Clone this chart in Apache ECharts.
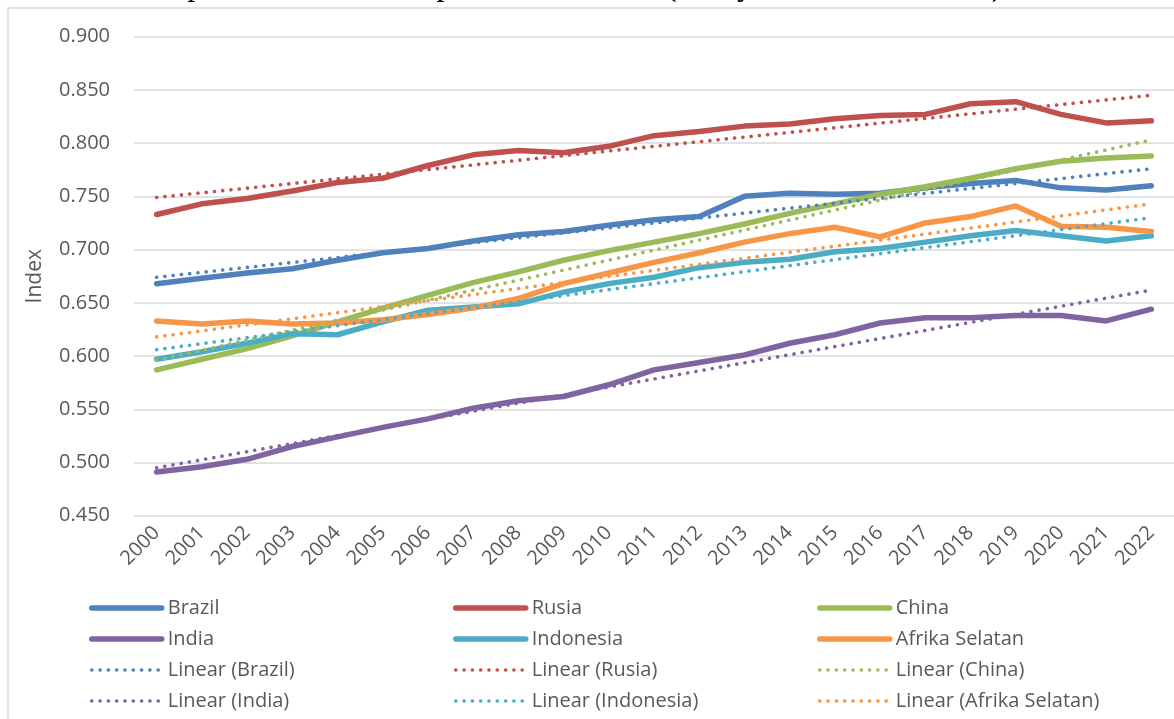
<!DOCTYPE html>
<html>
<head>
<meta charset="utf-8">
<script src="https://cdn.jsdelivr.net/npm/echarts@6/dist/echarts.min.js"></script>
<style>
    html, body { margin: 0; padding: 0; background: #fff; }
    #hdiChart { width: 1174px; height: 719px; }
</style>
</head>
<body>
<div id="hdiChart"></div>
<script>
    // data
    const years = ['2000', '2001', '2002', '2003', '2004', '2005', '2006', '2007', '2008', '2009', '2010', '2011',
        '2012', '2013', '2014', '2015', '2016', '2017', '2018', '2019', '2020', '2021', '2022'];
    const yTicks = [0.45, 0.9, 0.05]; // min, max, step

    const brazil = [0.668, 0.673, 0.678, 0.682, 0.690, 0.697, 0.701, 0.708, 0.714, 0.717, 0.723, 0.728,
        0.731, 0.750, 0.753, 0.752, 0.753, 0.758, 0.762, 0.765, 0.758, 0.756, 0.760];
    const rusia = [0.733, 0.743, 0.748, 0.755, 0.763, 0.767, 0.779, 0.789, 0.793, 0.791, 0.797, 0.807,
        0.811, 0.816, 0.818, 0.823, 0.826, 0.827, 0.837, 0.839, 0.827, 0.819, 0.821];
    const china = [0.587, 0.597, 0.607, 0.619, 0.632, 0.645, 0.657, 0.669, 0.679, 0.690, 0.699, 0.707,
        0.715, 0.724, 0.734, 0.743, 0.752, 0.759, 0.767, 0.776, 0.783, 0.786, 0.788];
    const india = [0.491, 0.496, 0.503, 0.515, 0.524, 0.533, 0.541, 0.551, 0.558, 0.562, 0.573, 0.587,
        0.594, 0.601, 0.612, 0.620, 0.631, 0.636, 0.636, 0.638, 0.638, 0.633, 0.644];
    const indonesia = [0.597, 0.604, 0.612, 0.621, 0.620, 0.632, 0.643, 0.646, 0.649, 0.660, 0.668, 0.674,
        0.683, 0.688, 0.691, 0.698, 0.701, 0.707, 0.713, 0.718, 0.713, 0.708, 0.713];
    const afrika = [0.633, 0.630, 0.633, 0.630, 0.631, 0.634, 0.639, 0.645, 0.654, 0.668, 0.678, 0.688,
        0.697, 0.707, 0.715, 0.721, 0.712, 0.725, 0.731, 0.741, 0.722, 0.721, 0.717];

    // trendline end values (2000 and 2022)
    const trendStart = [0.674, 0.749, 0.596, 0.495, 0.606, 0.618];
    const trendEnd = [0.776, 0.845, 0.803, 0.662, 0.730, 0.743];

    const names = ['Brazil', 'Rusia', 'China', 'India', 'Indonesia', 'Afrika Selatan'];
    const values = [brazil, rusia, china, india, indonesia, afrika];
    const colors = ['#4F81BD', '#C0504D', '#9BBB59', '#8064A2', '#4BACC6', '#F79646'];

    const font = "'Open Sans', 'Noto Sans', sans-serif";
    const dotDash = [0.1, 8.2];

    let series = [];
    names.forEach((n, i) => {
        series.push({
            name: n,
            type: 'line',
            data: values[i],
            symbol: 'none',
            color: colors[i],
            lineStyle: { width: 5.5, color: colors[i], cap: 'round', join: 'round' }
        });
    });
    names.forEach((n, i) => {
        series.push({
            name: 'Linear (' + n + ')',
            type: 'line',
            data: [[years[0], trendStart[i]], [years[years.length - 1], trendEnd[i]]],
            symbol: 'none',
            color: colors[i],
            lineStyle: { width: 3.6, color: colors[i], type: dotDash, cap: 'round' }
        });
    });

    // legend built as three columns, like the Excel layout
    function legendCol(left, idx) {
        let data = [];
        idx.forEach(i => data.push({ name: names[i], lineStyle: { width: 5.5, cap: 'round' } }));
        idx.forEach(i => data.push({ name: 'Linear (' + names[i] + ')', lineStyle: { width: 3.6, type: dotDash, cap: 'round' } }));
        return {
            orient: 'vertical',
            left: left,
            top: 598,
            padding: 0,
            itemWidth: 70,
            itemHeight: 14,
            itemGap: 11,
            selectedMode: false,
            itemStyle: { opacity: 0 },
            textStyle: { fontFamily: font, fontSize: 20, color: '#595959', padding: [0, 0, 0, 1] },
            data: data
        };
    }

    let option = {
        backgroundColor: '#fff',
        animation: false,
        grid: { left: 134, right: 0, top: 36.7, bottom: 203.3, containLabel: false },
        legend: [
            legendCol(89, [0, 3]),
            legendCol(453, [1, 4]),
            legendCol(817, [2, 5])
        ],
        graphic: [
            {
                type: 'rect',
                shape: { x: 8, y: 8, width: 1300, height: 900 },
                style: { fill: 'none', stroke: '#d9d9d9', lineWidth: 1.5 },
                silent: true
            },
            {
                type: 'text',
                left: 2,
                top: -30,
                style: {
                    text: 'which also impact human development indicators (Vaniya et Sharma, 2021).',
                    font: "33px 'Liberation Serif', 'Times New Roman', serif",
                    fill: '#000'
                },
                silent: true
            }
        ],
        xAxis: {
            type: 'category',
            data: years,
            boundaryGap: true,
            axisLine: { show: false },
            axisTick: { show: false },
            splitLine: { show: false },
            axisLabel: {
                rotate: 45,
                margin: 14,
                interval: 0,
                color: '#595959',
                fontFamily: font,
                fontSize: 20
            }
        },
        yAxis: {
            type: 'value',
            min: yTicks[0],
            max: yTicks[1],
            interval: yTicks[2],
            name: 'Index',
            nameLocation: 'middle',
            nameGap: 88,
            nameRotate: 90,
            nameTextStyle: { fontFamily: font, fontSize: 21, color: '#595959' },
            axisLine: { show: false },
            axisTick: { show: false },
            axisLabel: {
                margin: 24,
                color: '#595959',
                fontFamily: font,
                fontSize: 20,
                formatter: v => v.toFixed(3)
            },
            splitLine: { lineStyle: { color: '#d9d9d9', width: 1.5 } }
        },
        series: series
    };

    let chart = echarts.init(document.getElementById('hdiChart'));
    chart.setOption(option);
    window.addEventListener('resize', function () {
        chart.resize();
    });
</script>
</body>
</html>
